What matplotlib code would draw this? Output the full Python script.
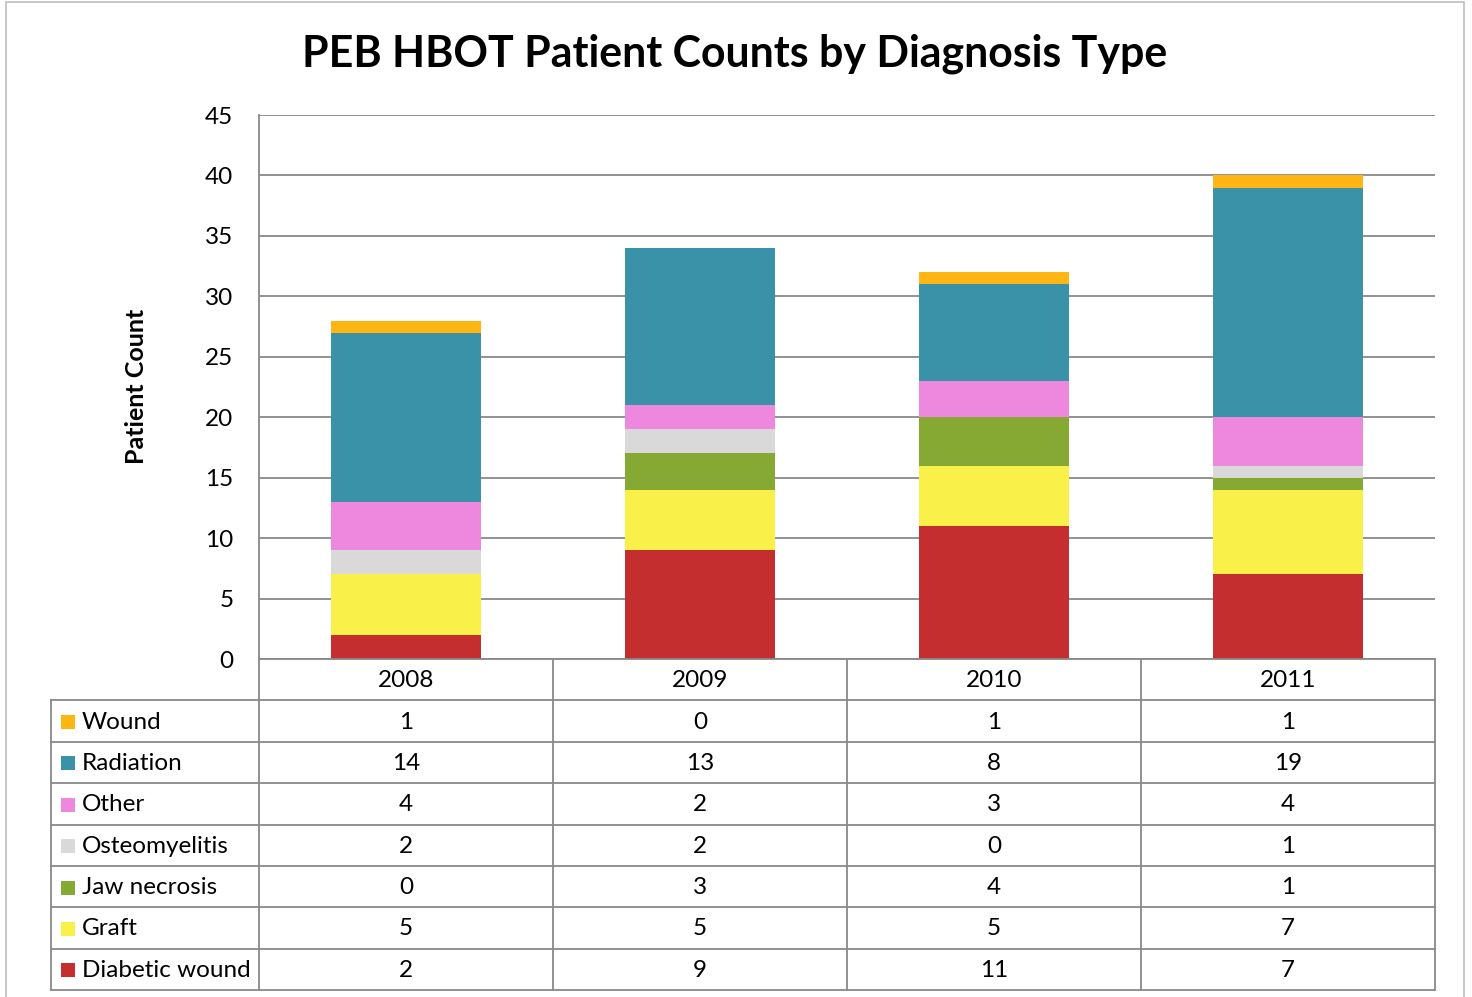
import matplotlib
matplotlib.use("Agg")
import matplotlib.pyplot as plt
import matplotlib.transforms as mtransforms
import numpy as np
from matplotlib.patches import Rectangle
from matplotlib.lines import Line2D

plt.rcParams['font.family'] = ['Lato', 'DejaVu Sans']

years = ["2008", "2009", "2010", "2011"]
series_names = ["Wound", "Radiation", "Other", "Osteomyelitis", "Jaw necrosis", "Graft", "Diabetic wound"]
wound = [1, 0, 1, 1]
radiation = [14, 13, 8, 19]
other = [4, 2, 3, 4]
osteomyelitis = [2, 2, 0, 1]
jaw_necrosis = [0, 3, 4, 1]
graft = [5, 5, 5, 7]
diabetic_wound = [2, 9, 11, 7]
colors = ["#FFB612", "#3A92A8", "#EE87DE", "#D9D9D9", "#86A933", "#F9F049", "#C42E2E"]
y_ticks = [0, 5, 10, 15, 20, 25, 30, 35, 40, 45]

series = [wound, radiation, other, osteomyelitis, jaw_necrosis, graft, diabetic_wound]

W, H = 1472, 997
fig = plt.figure(figsize=(W / 100, H / 100), dpi=100)

def fx(px):
    return px / W

def fy(py):
    return 1 - py / H

FS = 17.5

# outer frame
fig.add_artist(Rectangle((fx(6), fy(1010)), fx(1464) - fx(6), fy(2) - fy(1010),
                         transform=fig.transFigure, fill=False, edgecolor="#BFBFBF", lw=1.2))

left, right, top, bottom = 259, 1435, 115, 659
ax = fig.add_axes([fx(left), fy(bottom), fx(right) - fx(left), fy(top) - fy(bottom)])

x = np.arange(len(years))
bottoms = np.zeros(len(years))
# stack from bottom: reversed order of legend
for name, vals, col in list(zip(series_names, series, colors))[::-1]:
    ax.bar(x, vals, width=0.512, bottom=bottoms, color=col, zorder=3, linewidth=0)
    bottoms += np.array(vals)

ax.set_xlim(-0.5, len(years) - 0.5)
ax.set_ylim(0, 45)
ax.set_yticks(y_ticks)
ax.set_yticklabels([str(t) for t in y_ticks], fontsize=FS)
ax.tick_params(axis='y', length=0, pad=18.5)
ax.set_xticks([])
ax.yaxis.grid(True, color="#898989", lw=1.3, zorder=0)
for s in ["top", "right", "bottom"]:
    ax.spines[s].set_visible(False)
ax.spines["left"].set_color("#898989")
ax.spines["left"].set_linewidth(1.3)

fig.text(fx(735), fy(54), "PEB HBOT Patient Counts by Diagnosis Type", ha="center", va="center",
         fontsize=30.9, fontweight="bold")
fig.text(fx(137), fy(386), "Patient Count", ha="center", va="center", rotation=90,
         fontsize=18, fontweight="bold")

# data table below the plot
line_col = "#898989"
lw = 1.3
row_h = (990 - 659) / 8.0
rows_y = [659 + i * row_h for i in range(9)]
col_edges = [left + i * (right - left) / len(years) for i in range(len(years) + 1)]

# horizontal lines
fig.add_artist(Line2D([fx(left), fx(right)], [fy(rows_y[0])] * 2, transform=fig.transFigure, color=line_col, lw=lw))
for yy in rows_y[1:]:
    fig.add_artist(Line2D([fx(51), fx(right)], [fy(yy)] * 2, transform=fig.transFigure, color=line_col, lw=lw))
# vertical lines
for xe in col_edges:
    fig.add_artist(Line2D([fx(xe)] * 2, [fy(rows_y[0]), fy(rows_y[-1])], transform=fig.transFigure, color=line_col, lw=lw))
fig.add_artist(Line2D([fx(51)] * 2, [fy(rows_y[1]), fy(rows_y[-1])], transform=fig.transFigure, color=line_col, lw=lw))

bt = mtransforms.blended_transform_factory(ax.transData, fig.transFigure)
# header
for i, yr in enumerate(years):
    yc = (rows_y[0] + rows_y[1]) / 2 + 1
    ax.text(x[i], fy(yc), yr, transform=bt, ha="center", va="center", fontsize=FS, clip_on=False)

for r, (name, vals, col) in enumerate(zip(series_names, series, colors)):
    yc = (rows_y[r + 1] + rows_y[r + 2]) / 2 + 1
    fig.add_artist(Rectangle((fx(61), fy(yc + 7)), fx(14), fy(0) - fy(14),
                             transform=fig.transFigure, facecolor=col, edgecolor="none"))
    fig.text(fx(82), fy(yc), name, ha="left", va="center", fontsize=FS)
    for i, v in enumerate(vals):
        ax.text(x[i], fy(yc), str(v), transform=bt, ha="center", va="center", fontsize=FS, clip_on=False)

fig.savefig("out.png", dpi=100, facecolor="white")
